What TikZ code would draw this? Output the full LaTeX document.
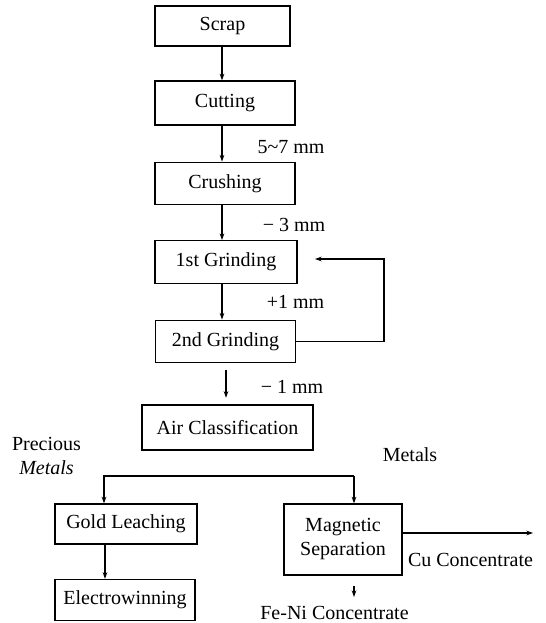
\documentclass[tikz,border=0pt]{standalone}
\usepackage{fontspec}
\setmainfont{Liberation Serif}
\usetikzlibrary{arrows.meta}
\tikzset{
  stage/.style={draw, line width=0.9pt, minimum width=105pt, minimum height=32pt, inner sep=2pt, align=center},
  flow/.style={-{Stealth[length=5pt,width=3.5pt]}, line width=0.9pt},
  note/.style={inner sep=0pt, align=center}
}
\begin{document}
\begin{tikzpicture}[x=0.75pt,y=-0.75pt,font=\fontsize{15}{18}\selectfont]
\useasboundingbox (0,0) rectangle (545,623);
% process boxes
\node[stage, minimum width=101.25pt, minimum height=30pt] (scrap) at (222.5,26) {Scrap};
\node[stage, minimum height=33pt] (cutting) at (225,103) {Cutting};
\node[stage] (crushing) at (225,183.5) {Crushing};
\node[stage, minimum width=106.5pt] (grind1) at (226,262) {1st Grinding};
\node[stage] (grind2) at (225.5,341.5) {2nd Grinding};
\node[stage, minimum width=128.25pt, minimum height=33.75pt] (aircl) at (227.5,427.5) {Air Classification};
\node[stage, minimum width=106.5pt, minimum height=30pt] (gold) at (126,524) {Gold Leaching};
\node[stage, minimum height=30.75pt] (elec) at (125,600) {Electrowinning};
\node[stage, minimum width=88.5pt, minimum height=53.25pt] (mag) at (343,539.5) {Magnetic\\Separation};
% size labels
\node[note] (s57) at (291,147) {5\textasciitilde 7 mm};
\node[note] (s3) at (294,225) {− 3 mm};
\node[note] (s1p) at (295.5,302) {+1 mm};
\node[note] (s1m) at (292,387) {− 1 mm};
\node[note] (prec) at (46.5,455.5) {Precious\\\itshape Metals};
\node[note] (metals) at (410,455) {Metals};
\node[note] (cu) at (470.5,560) {Cu Concentrate};
\node[note] (feni) at (334.5,613) {Fe-Ni Concentrate};
% connectors
\coordinate (col) at (222,0);
\coordinate (col2) at (226,0);
\coordinate (loop) at (384,0);
\coordinate (back) at (315,259);
\coordinate (splitL) at (104,476);
\coordinate (splitR) at (354,476);
\coordinate (goldcol) at (105,0);
\coordinate (cuend) at (533,533);
\coordinate (feend) at (354,597);
\draw[flow] (col |- scrap.south) -- (col |- cutting.north);
\draw[flow] (col |- cutting.south) -- (col |- crushing.north);
\draw[flow] (col |- crushing.south) -- (col |- grind1.north);
\draw[flow] (col |- grind1.south) -- (col |- grind2.north);
\draw[flow, shorten <=5pt, shorten >=5pt] (col2 |- grind2.south) -- (col2 |- aircl.north);
\draw[flow] (grind2.east) -- (grind2.east -| loop) |- (back);
\draw[flow] (splitR) -- (splitL) -- (splitL |- gold.north);
\draw[flow] (splitR) -- (splitR |- mag.north);
\draw[flow] (goldcol |- gold.south) -- (goldcol |- elec.north);
\draw[flow] (mag.east |- cuend) -- (cuend);
\draw[flow, shorten <=8pt] (feend |- mag.south) -- (feend);
\end{tikzpicture}
\end{document}
